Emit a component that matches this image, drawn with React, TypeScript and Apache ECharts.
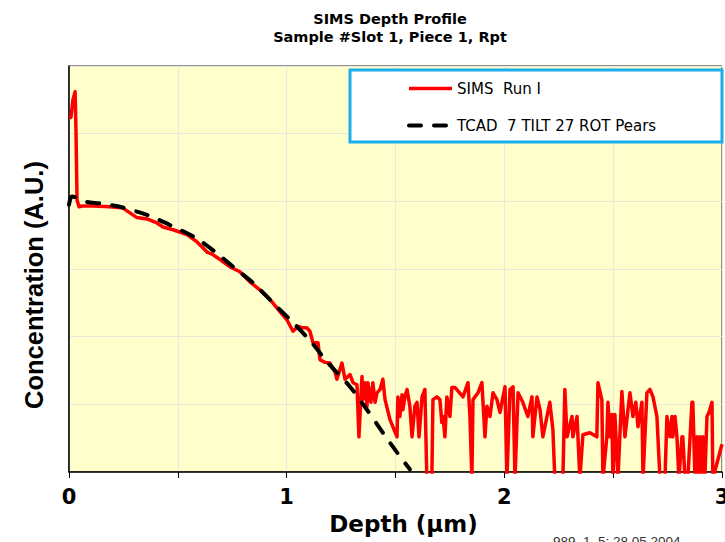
import React, { useEffect, useRef } from "react";
import * as echarts from "echarts";

const titleLines = ["SIMS Depth Profile", "Sample #Slot 1, Piece 1, Rpt"];
const seriesNames = ["SIMS  Run I", "TCAD  7 TILT 27 ROT Pears"];
const xTickLabels = ["0", "1", "2", "3"];
const xAxisName = "Depth (\u03bcm)";
const yAxisName = "Concentration (A.U.)";
const footnote = "989_1_5; 28.05.2004";

// SIMS measured profile (depth in µm, concentration in decades, arbitrary units)
const simsDepth = [
  0.000, 0.009, 0.018, 0.028, 0.032, 0.037, 0.046, 0.060, 0.110, 0.188,
  0.248, 0.280, 0.312, 0.358, 0.404, 0.432, 0.478, 0.542, 0.588, 0.616,
  0.634, 0.657, 0.680, 0.694, 0.740, 0.785, 0.831, 0.877, 0.923, 0.969,
  1.001, 1.029, 1.052, 1.075, 1.093, 1.107, 1.121, 1.144, 1.153, 1.176,
  1.199, 1.222, 1.231, 1.254, 1.268, 1.291, 1.305, 1.323, 1.332, 1.346,
  1.350, 1.360, 1.369, 1.373, 1.387, 1.396, 1.406, 1.415, 1.429, 1.442,
  1.452, 1.475, 1.507, 1.511, 1.520, 1.530, 1.534, 1.543, 1.553, 1.566,
  1.576, 1.589, 1.599, 1.608, 1.622, 1.635, 1.644, 1.667, 1.672, 1.690,
  1.704, 1.713, 1.718, 1.727, 1.736, 1.750, 1.759, 1.773, 1.810, 1.833,
  1.842, 1.851, 1.856, 1.879, 1.897, 1.902, 1.911, 1.920, 1.934, 1.948,
  1.966, 1.980, 2.003, 2.012, 2.026, 2.040, 2.049, 2.063, 2.085, 2.108,
  2.127, 2.131, 2.150, 2.164, 2.177, 2.209, 2.223, 2.232, 2.269, 2.278,
  2.288, 2.311, 2.315, 2.334, 2.347, 2.361, 2.393, 2.425, 2.430, 2.448,
  2.453, 2.471, 2.476, 2.485, 2.494, 2.499, 2.508, 2.522, 2.540, 2.554,
  2.577, 2.591, 2.604, 2.614, 2.632, 2.637, 2.655, 2.669, 2.683, 2.701,
  2.715, 2.738, 2.747, 2.761, 2.770, 2.774, 2.784, 2.793, 2.802, 2.816,
  2.820, 2.830, 2.843, 2.862, 2.866, 2.876, 2.885, 2.889, 2.898, 2.908,
  2.912, 2.921, 2.931, 2.940, 2.954, 2.958, 3.000,
];
const simsConc = [
  5.23, 5.24, 5.50, 5.62, 5.06, 4.02, 3.92, 3.93, 3.93, 3.92,
  3.90, 3.83, 3.76, 3.74, 3.68, 3.62, 3.58, 3.51, 3.40, 3.31,
  3.25, 3.22, 3.17, 3.14, 3.03, 2.96, 2.81, 2.69, 2.55, 2.37,
  2.25, 2.08, 2.15, 2.13, 2.13, 2.08, 1.91, 1.91, 1.66, 1.62,
  1.61, 1.48, 1.37, 1.61, 1.37, 1.44, 1.32, 1.29, 0.52, 1.41,
  1.07, 1.32, 0.97, 1.32, 1.03, 1.32, 1.03, 1.17, 1.22, 1.37,
  1.07, 0.77, 0.52, 1.11, 0.82, 1.14, 0.92, 1.11, 1.22, 0.97,
  0.52, 0.97, 1.03, 0.52, 1.11, 1.22, -0.1, -0.1, 1.07, 1.11,
  1.07, 0.73, 0.82, 0.52, 1.11, 0.82, 1.25, 1.25, 1.11, 1.32,
  0.82, -0.1, 1.07, 1.17, 1.32, 1.03, 0.52, 0.97, 0.82, 1.17,
  1.07, 0.88, 1.26, -0.1, 1.22, 1.26, -0.1, 1.17, 1.03, 0.82,
  1.11, 0.52, 1.11, 0.92, 0.52, 1.03, 0.63, -0.1, -0.1, 1.22,
  0.52, 0.82, 0.52, 0.82, -0.1, 0.55, 0.58, 0.52, 1.32, 1.07,
  -0.1, 0.52, 1.03, 0.52, 0.85, -0.1, 0.85, -0.1, 1.19, 0.52,
  1.17, 0.82, 1.03, 0.67, 1.03, -0.1, 1.17, 1.22, 1.11, 0.82,
  -0.1, -0.1, 0.82, 0.52, 0.82, 0.52, 0.82, 0.52, -0.1, 0.52,
  0.52, -0.1, -0.1, 1.03, 1.03, -0.1, 0.52, -0.1, 0.52, -0.1,
  0.52, -0.1, 0.82, 0.88, 1.03, -0.1, 0.41,
];

// TCAD simulated profile
const tcadDepth = [
  0.000, 0.014, 0.083, 0.142, 0.234, 0.358, 0.464, 0.588, 0.680, 0.763,
  0.854, 0.946, 1.029, 1.116, 1.185, 1.291, 1.369, 1.442, 1.507, 1.566,
];
const tcadConc = [
  3.95, 4.07, 3.99, 3.97, 3.92, 3.80, 3.65, 3.45, 3.23, 3.01,
  2.77, 2.47, 2.21, 1.91, 1.63, 1.26, 0.92, 0.58, 0.29, 0.04,
];

const ARIAL = "'Liberation Sans', Arial, sans-serif";
const WIDE = "'DejaVu Sans', Verdana, sans-serif";

export default function App() {
  const ref = useRef<HTMLDivElement>(null);

  useEffect(() => {
    if (!ref.current) return;
    const chart = echarts.init(ref.current, undefined, { renderer: "svg" });
    const sims = simsDepth.map((d, i) => [d, simsConc[i]]);
    const tcad = tcadDepth.map((d, i) => [d, tcadConc[i]]);
    chart.setOption({
      animation: false,
      backgroundColor: "#ffffff",
      textStyle: { fontFamily: ARIAL },
      title: {
        text: titleLines.join("\n"),
        left: 385,
        top: 5,
        textAlign: "center",
        textStyle: {
          fontFamily: WIDE,
          fontSize: 14.5,
          fontWeight: "bold",
          color: "#000",
          lineHeight: 18,
        },
      },
      grid: {
        left: 69,
        right: 3,
        top: 66,
        bottom: 70,
        show: true,
        backgroundColor: "#FFFFCC",
        borderColor: "#222",
        borderWidth: 1,
        outerBoundsMode: "none",
        containLabel: false,
      },
      legend: {
        data: seriesNames,
        orient: "vertical",
        left: 407,
        top: 81,
        padding: 0,
        itemWidth: 43,
        itemHeight: 14,
        itemGap: 22,
        z: 10,
        itemStyle: { opacity: 0 },
        lineStyle: { width: "inherit" },
        textStyle: { fontFamily: WIDE, fontSize: 15, color: "#000" },
      },
      graphic: [
        {
          type: "rect",
          z: 5,
          shape: { x: 350, y: 70, width: 372, height: 72 },
          style: { fill: "#ffffff", stroke: "#1BAEEA", lineWidth: 3 },
        },
        {
          type: "text",
          left: 553,
          top: 534,
          style: {
            text: footnote,
            font: "13.5px 'Liberation Sans', Arial, sans-serif",
            fill: "#333",
          },
        },
      ],
      xAxis: {
        type: "value",
        min: 0,
        max: 3,
        interval: 0.5,
        name: xAxisName,
        nameLocation: "middle",
        nameGap: 40,
        nameTextStyle: {
          fontFamily: WIDE,
          fontSize: 23,
          fontWeight: "bold",
          color: "#000",
          padding: [0, 0, 0, 16],
        },
        axisLine: { show: true, lineStyle: { color: "#000", width: 1.5 } },
        axisTick: { show: true, length: 6, lineStyle: { color: "#000" } },
        axisLabel: {
          margin: 14,
          fontFamily: WIDE,
          fontSize: 21,
          fontWeight: "bold",
          color: "#000",
          formatter: (v: number) => {
            const idx = xTickLabels.indexOf(String(v));
            return Number.isInteger(v) && idx >= 0 ? xTickLabels[idx] : "";
          },
        },
        splitLine: { show: true, lineStyle: { color: "#E9E8DA", width: 1 } },
      },
      yAxis: {
        type: "value",
        min: 0,
        max: 6,
        interval: 1,
        name: yAxisName,
        nameLocation: "middle",
        nameGap: 22,
        nameTextStyle: {
          fontFamily: ARIAL,
          fontSize: 25.5,
          fontWeight: "bold",
          color: "#000",
          padding: [0, 32, 0, 0],
        },
        axisLine: { show: true, lineStyle: { color: "#000", width: 1.5 } },
        axisTick: { show: false },
        axisLabel: { show: false },
        splitLine: { show: true, lineStyle: { color: "#E9E8DA", width: 1 } },
      },
      series: [
        {
          name: seriesNames[0],
          type: "line",
          data: sims,
          symbol: "none",
          clip: true,
          lineStyle: { color: "#FF0000", width: 3.5, join: "round" },
          itemStyle: { color: "#FF0000" },
          z: 2,
        },
        {
          name: seriesNames[1],
          type: "line",
          data: tcad,
          symbol: "none",
          smooth: 0.3,
          clip: true,
          lineStyle: { color: "#000000", width: 4, type: [12, 13], cap: "round" },
          itemStyle: { color: "#000000" },
          z: 3,
        },
      ],
    });
    return () => chart.dispose();
  }, []);

  return (
    <div
      ref={ref}
      style={{ position: "fixed", left: 0, top: 0, width: 725, height: 542 }}
    />
  );
}
